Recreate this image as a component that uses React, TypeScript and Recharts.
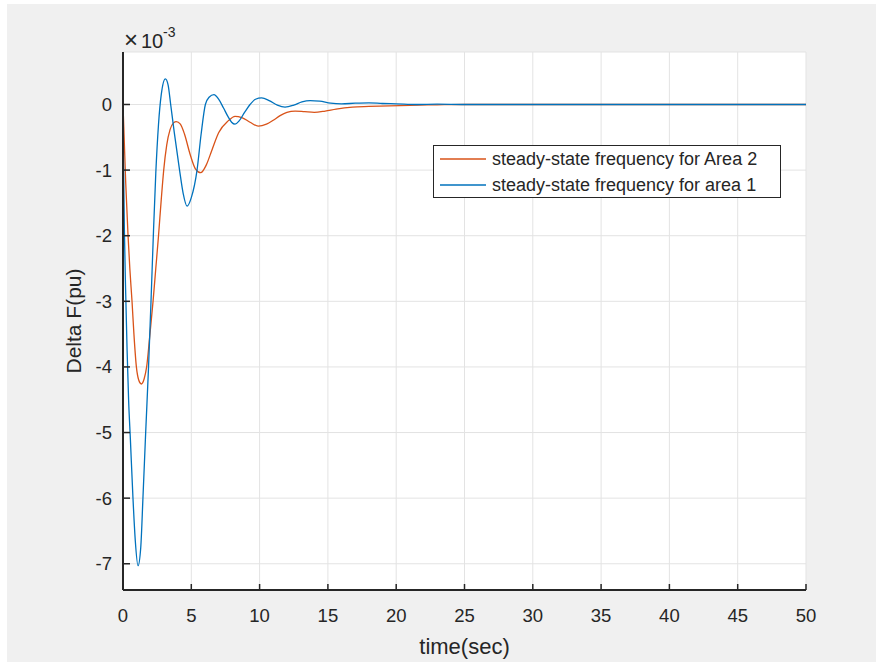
import { LineChart, Line, XAxis, YAxis, CartesianGrid, Legend } from "recharts";

// Frequency deviation of the two areas, in units of 1e-3 pu.
const areaOneTime = [
  0, 0.04, 0.1, 0.2, 0.3, 0.41, 0.54, 0.73, 0.9, 1.1, 1.3, 1.46, 1.66, 1.87, 2.05, 2.22, 2.4, 2.6, 2.8,
  3.1, 3.3, 3.49, 3.75, 4.14, 4.4, 4.69, 5.0, 5.42, 5.72, 6.03, 6.3, 6.66, 7.0, 7.35, 7.7, 7.95, 8.2,
  8.5, 8.9, 9.3, 9.7, 10.15, 10.7, 11.3, 11.86, 12.5, 13.1, 13.7, 14.4, 15.2, 16.0, 17.0, 18.0, 19.0,
  20.0, 21.5, 23, 25, 30, 40, 50,
];
const areaOneDelta = [
  0, -0.9, -1.9, -2.9, -3.75, -4.5, -5.1, -6.0, -6.65, -7.03, -6.75, -6.0, -5.0, -4.0, -3.0, -2.0, -1.05,
  -0.3, 0.15, 0.39, 0.3, 0.0, -0.42, -1.0, -1.35, -1.55, -1.42, -1.0, -0.45, 0.0, 0.11, 0.15, 0.08, -0.05,
  -0.19, -0.27, -0.3, -0.25, -0.12, 0.0, 0.08, 0.1, 0.06, -0.01, -0.04, -0.01, 0.04, 0.06, 0.05, 0.02,
  0.01, 0.02, 0.025, 0.015, 0.01, 0.0, 0.005, 0, 0, 0, 0,
];
const areaTwoTime = [
  0, 0.1, 0.2, 0.37, 0.5, 0.66, 0.8, 0.98, 1.15, 1.34, 1.55, 1.73, 1.95, 2.2, 2.4, 2.6, 2.8, 2.98, 3.2,
  3.45, 3.7, 3.9, 4.2, 4.5, 4.9, 5.3, 5.69, 6.1, 6.5, 7.0, 7.7, 8.2, 8.7, 9.3, 9.9, 10.5, 11.0, 11.5,
  12.0, 12.6, 13.3, 14.0, 14.8, 15.6, 16.8, 18, 19.5, 21, 23, 25, 30, 40, 50,
];
const areaTwoDelta = [
  0, -0.6, -1.2, -2.0, -2.5, -3.0, -3.5, -4.0, -4.2, -4.26, -4.18, -4.0, -3.55, -3.0, -2.5, -2.0, -1.45,
  -1.0, -0.62, -0.38, -0.28, -0.26, -0.3, -0.45, -0.75, -0.98, -1.04, -0.92, -0.7, -0.43, -0.25, -0.18,
  -0.2, -0.27, -0.33, -0.3, -0.24, -0.17, -0.12, -0.1, -0.11, -0.12, -0.1, -0.07, -0.04, -0.03, -0.02,
  -0.012, -0.005, 0, 0, 0, 0,
];

const timeTicks = [0, 5, 10, 15, 20, 25, 30, 35, 40, 45, 50];
const deltaTicks = [-7, -6, -5, -4, -3, -2, -1, 0];

const AREA_ONE_NAME = "steady-state frequency for area 1";
const AREA_TWO_NAME = "steady-state frequency for Area 2";

const FONT = "'Liberation Sans', Arial, Helvetica, sans-serif";
const INK = "#262626";
const AXIS = "#262626";
const GRID = "#e3e3e3";
const BLUE = "#0072BD";
const ORANGE = "#D95319";

const X_TICK_GAP = 19;
const Y_TICK_GAP = 11;

const toRows = (ts: number[], vs: number[]) => ts.map((t, i) => ({ t, v: vs[i] }));
const areaOneRows = toRows(areaOneTime, areaOneDelta);
const areaTwoRows = toRows(areaTwoTime, areaTwoDelta);

// ticks point into the plot, the way MATLAB draws them
function TimeTick(props: any) {
  const { x, y, payload } = props;
  const axisY = y - X_TICK_GAP;
  return (
    <g>
      <line x1={x} y1={axisY} x2={x} y2={axisY - 6} stroke={AXIS} strokeWidth={1.5} />
      <text x={x} y={y} dy="0.71em" textAnchor="middle" fill={INK} fontSize={18.5} fontFamily={FONT}>
        {payload.value}
      </text>
    </g>
  );
}

function DeltaTick(props: any) {
  const { x, y, payload } = props;
  const axisX = x + Y_TICK_GAP;
  return (
    <g>
      <line x1={axisX} y1={y} x2={axisX + 7} y2={y} stroke={AXIS} strokeWidth={1.5} />
      <text x={x} y={y} dy="0.355em" textAnchor="end" fill={INK} fontSize={18.5} fontFamily={FONT}>
        {payload.value}
      </text>
    </g>
  );
}

function FrequencyLegend({ payload }: any) {
  return (
    <div
      style={{
        width: 346,
        height: 51,
        border: `1px solid ${AXIS}`,
        background: "#fff",
        fontFamily: FONT,
        fontSize: 18,
        color: INK,
      }}
    >
      {(payload ?? []).map((entry: any) => (
        <div key={entry.value} style={{ display: "flex", alignItems: "center", height: 26 }}>
          <svg width={46} height={4} style={{ marginLeft: 6 }}>
            <line x1={0} y1={2} x2={46} y2={2} stroke={entry.color} strokeWidth={1.3} />
          </svg>
          <span style={{ marginLeft: 6, whiteSpace: "nowrap" }}>{entry.value}</span>
        </div>
      ))}
    </div>
  );
}

export default function App() {
  return (
    <div style={{ position: "fixed", left: 0, top: 0, width: 876, height: 662, background: "#fff" }}>
      <div style={{ position: "absolute", left: 7, top: 4, right: 0, bottom: 0, background: "#f0f0f0" }} />
      {/* axis exponent */}
      <svg
        width={80}
        height={30}
        style={{ position: "absolute", left: 120, top: 22, overflow: "visible" }}
        fontFamily={FONT}
        fill={INK}
      >
        <text x={4} y={26} fontSize={24} fontWeight={300}>×</text>
        <text x={21} y={26} fontSize={20}>10</text>
        <text x={43} y={15} fontSize={14}>-3</text>
      </svg>
      <div style={{ position: "absolute", left: 0, top: 0 }}>
        <LineChart width={876} height={662} margin={{ top: 52, right: 70, bottom: 0, left: 0 }}>
          <CartesianGrid stroke={GRID} fill="#ffffff" fillOpacity={1} />
          <XAxis
            dataKey="t"
            type="number"
            domain={[0, 50]}
            ticks={timeTicks}
            interval={0}
            tick={TimeTick}
            tickLine={false}
            tickSize={0}
            tickMargin={X_TICK_GAP}
            axisLine={{ stroke: AXIS, strokeWidth: 2 }}
            height={72}
            allowDataOverflow
            label={{
              content: ({ viewBox }: any) => (
                <text
                  x={viewBox.x + viewBox.width / 2}
                  y={viewBox.y + 64}
                  textAnchor="middle"
                  fill={INK}
                  fontSize={22}
                  fontFamily={FONT}
                >
                  time(sec)
                </text>
              ),
            }}
          />
          <YAxis
            type="number"
            domain={[-7.4, 0.8]}
            ticks={deltaTicks}
            interval={0}
            tick={DeltaTick}
            tickLine={false}
            tickSize={0}
            tickMargin={Y_TICK_GAP}
            axisLine={{ stroke: AXIS, strokeWidth: 2 }}
            width={123}
            allowDataOverflow
            label={{
              content: ({ viewBox }: any) => {
                const cx = viewBox.x + 81;
                const cy = viewBox.y + viewBox.height / 2;
                return (
                  <text
                    x={cx}
                    y={cy}
                    transform={`rotate(-90, ${cx}, ${cy})`}
                    textAnchor="middle"
                    fill={INK}
                    fontSize={21}
                    fontFamily={FONT}
                  >
                    Delta F(pu)
                  </text>
                );
              },
            }}
          />
          <Legend
            content={FrequencyLegend}
            layout="horizontal"
            verticalAlign="middle"
            align="center"
            wrapperStyle={{ left: 433, top: 145, width: 348, height: 53 }}
          />
          <Line
            data={areaTwoRows}
            dataKey="v"
            name={AREA_TWO_NAME}
            type="monotone"
            stroke={ORANGE}
            strokeWidth={1.3}
            dot={false}
            activeDot={false}
            isAnimationActive={false}
          />
          <Line
            data={areaOneRows}
            dataKey="v"
            name={AREA_ONE_NAME}
            type="monotone"
            stroke={BLUE}
            strokeWidth={1.3}
            dot={false}
            activeDot={false}
            isAnimationActive={false}
          />
        </LineChart>
      </div>
    </div>
  );
}
